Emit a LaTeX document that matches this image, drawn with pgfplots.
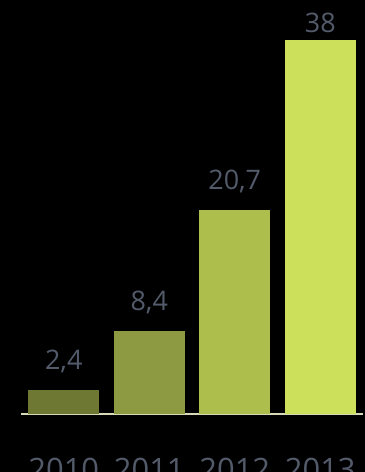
\documentclass[border=0pt]{standalone}
\usepackage{pgfplots}
\pgfplotsset{compat=1.18}
\usepackage{fontspec}
\setmainfont{Open Sans}
\definecolor{cA}{HTML}{6E7832}
\definecolor{cB}{HTML}{8E9A42}
\definecolor{cC}{HTML}{ADBE4C}
\definecolor{cD}{HTML}{CDE05C}
\definecolor{txt}{HTML}{535B6B}
\definecolor{base}{HTML}{D6D8B8}
\begin{document}
\begin{tikzpicture}
\fill[black] (0,0) rectangle (365bp,472bp);
\path[use as bounding box] (0,0) rectangle (365bp,472bp);
\begin{axis}[
  at={(21bp,58bp)}, anchor=south west,
  scale only axis, width=342bp, height=414bp,
  xmin=-0.5, xmax=3.5, ymin=0, ymax=42.07,
  axis y line=none,
  axis x line*=bottom,
  x axis line style={draw=base, line width=1.5bp, -},
  xtick={0,1,2,3},
  xticklabels={2010,2011,2012,2013},
  xtick style={draw=none},
  xticklabel style={anchor=base, yshift=-62.5bp, font=\fontsize{31}{36}\selectfont, text=txt},
  ybar, bar width=71bp, bar shift=0pt,
  point meta=explicit symbolic,
  nodes near coords,
  nodes near coords style={anchor=base, yshift=21bp, font=\fontsize{27}{32}\selectfont, text=txt},
  clip=false,
]
\addplot[fill=cA, draw=none] coordinates {(0,2.4) [2,4]};
\addplot[fill=cB, draw=none] coordinates {(1,8.4) [8,4]};
\addplot[fill=cC, draw=none] coordinates {(2,20.7) [20,7]};
\addplot[fill=cD, draw=none, nodes near coords style={yshift=-13bp}] coordinates {(3,38) [38]};
\end{axis}
\end{tikzpicture}
\end{document}
